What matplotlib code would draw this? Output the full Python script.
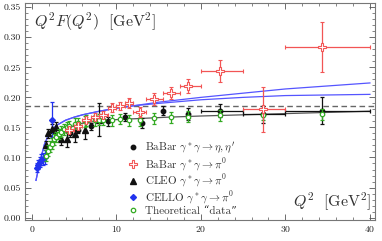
import matplotlib
matplotlib.use("Agg")
import matplotlib.pyplot as plt
from matplotlib.lines import Line2D
from matplotlib.ticker import MultipleLocator
import numpy as np

plt.rcParams['font.family'] = ['cmr10', 'DejaVu Serif']
plt.rcParams['mathtext.fontset'] = 'cm'
plt.rcParams['axes.formatter.use_mathtext'] = True

# BaBar gamma* gamma -> pi0
babar_pi_x = [4.46, 5.47, 6.47, 7.47, 8.48, 9.48, 10.48, 11.49, 12.83, 14.46, 16.45, 18.46, 22.27, 27.31, 34.36]
babar_pi_lo = [4, 5, 6, 7, 8, 9, 10, 11, 12, 13.5, 15.5, 17.5, 20, 25, 30]
babar_pi_hi = [5, 6, 7, 8, 9, 10, 11, 12, 13.5, 15.5, 17.5, 20, 25, 30, 40]
babar_pi_y = [0.145, 0.153, 0.162, 0.168, 0.171, 0.183, 0.186, 0.191, 0.176, 0.197, 0.207, 0.219, 0.244, 0.180, 0.284]
babar_pi_err = [0.005, 0.005, 0.005, 0.006, 0.006, 0.007, 0.007, 0.008, 0.008, 0.010, 0.010, 0.012, 0.018, 0.037, 0.042]

# BaBar gamma* gamma -> eta, eta'
babar_eta_x = [4.5, 5.5, 7.0, 9.0, 11.0, 13.0, 15.5, 18.5, 22.3, 27.4, 34.3]
babar_eta_lo = [4.5, 5.5, 7.0, 9.0, 11.0, 13.0, 15.5, 18.5, 20, 25, 30]
babar_eta_hi = [4.5, 5.5, 7.0, 9.0, 11.0, 13.0, 15.5, 18.5, 25, 30, 40]
babar_eta_y = [0.140, 0.146, 0.152, 0.160, 0.167, 0.157, 0.178, 0.172, 0.178, 0.172, 0.178]
babar_eta_err = [0.006, 0.006, 0.006, 0.007, 0.007, 0.008, 0.008, 0.010, 0.011, 0.014, 0.022]

# CLEO
cleo_x = [1.64, 1.94, 2.34, 2.84, 3.45, 4.21, 5.15, 6.26, 7.93]
cleo_y = [0.121, 0.140, 0.148, 0.150, 0.131, 0.130, 0.139, 0.146, 0.163]
cleo_err = [0.006, 0.007, 0.008, 0.009, 0.010, 0.012, 0.014, 0.016, 0.027]

# CELLO
cello_x = [0.64, 0.78, 0.95, 1.13, 1.33, 1.57, 2.35]
cello_y = [0.083, 0.088, 0.092, 0.096, 0.098, 0.101, 0.163]
cello_err = [0.007, 0.007, 0.008, 0.009, 0.010, 0.012, 0.029]

# theoretical "data"
theo_x = [1.64, 1.94, 2.17, 2.34, 2.64, 2.84, 3.2, 3.45, 3.8, 4.21, 4.46, 5.15, 5.47, 6.26, 6.47,
          7.47, 7.93, 8.48, 9.48, 10.48, 11.49, 12.83, 14.46, 16.45, 18.46, 22.27, 27.31, 34.36]
theo_y = [0.103, 0.111, 0.118, 0.123, 0.130, 0.134, 0.139, 0.143, 0.147, 0.150, 0.152, 0.156, 0.157,
          0.160, 0.161, 0.162, 0.163, 0.163, 0.162, 0.164, 0.162, 0.162, 0.165, 0.167, 0.168, 0.170,
          0.171, 0.172]
theo_err = 0.009

# curves
curve_x = [0.5, 0.7, 1.0, 1.5, 2.0, 2.5, 3, 4, 5, 6, 8, 10, 12, 15, 20, 25, 30, 35, 40]
blue_up = [0.062, 0.075, 0.095, 0.122, 0.138, 0.148, 0.154, 0.162, 0.167, 0.171, 0.177, 0.182,
           0.186, 0.192, 0.200, 0.207, 0.214, 0.219, 0.224]
blue_lo = [0.062, 0.075, 0.095, 0.122, 0.138, 0.148, 0.154, 0.162, 0.167, 0.171, 0.177, 0.182,
           0.186, 0.190, 0.196, 0.200, 0.203, 0.204, 0.205]
gray_x = [1.5, 2, 3, 4, 5, 6, 8, 10, 13, 16, 20, 25, 30, 35, 40]
gray_y = [0.100, 0.117, 0.136, 0.147, 0.153, 0.157, 0.161, 0.163, 0.165, 0.167, 0.169, 0.171,
          0.173, 0.175, 0.177]
asymptote = 0.186

red = '#f25555'
green = '#33aa22'
blue = '#2233ee'
lblue = '#5555ff'

fig = plt.figure(figsize=(3.82, 2.41), dpi=100)
ax = fig.add_axes([25 / 382, 1 - 220 / 241, 350 / 382, 217 / 241])

ax.axhline(asymptote, color='#666666', ls=(0, (4, 2.5)), lw=1.0, zorder=1)
ax.plot(curve_x, blue_up, color=lblue, lw=0.9, zorder=2)
ax.plot(curve_x, blue_lo, color=lblue, lw=0.9, zorder=2)
ax.plot(gray_x, gray_y, color='#555555', lw=0.9, zorder=2)

ekw = dict(capsize=1.5, elinewidth=0.9, capthick=0.9, ls='none')

tx = np.array(theo_x)
ax.errorbar(tx, theo_y, yerr=theo_err, marker='o', ms=3.2, mfc='white', mec=green, mew=0.9,
            color=green, zorder=4, **ekw)

bx = np.array(babar_eta_x)
ax.errorbar(bx, babar_eta_y, yerr=babar_eta_err,
            xerr=[bx - np.array(babar_eta_lo), np.array(babar_eta_hi) - bx],
            marker='o', ms=3.2, color='#111111', zorder=3, **ekw)

ax.errorbar(cleo_x, cleo_y, yerr=cleo_err, marker='^', ms=4.2, color='#111111', zorder=3, **ekw)
ax.errorbar(cello_x, cello_y, yerr=cello_err, marker='D', ms=3.0, color=blue, zorder=3, **ekw)

px = np.array(babar_pi_x)
ax.errorbar(px, babar_pi_y, yerr=babar_pi_err,
            xerr=[px - np.array(babar_pi_lo), np.array(babar_pi_hi) - px],
            marker='P', ms=5.2, mfc='white', mec=red, mew=0.8, color=red, zorder=5, **ekw)

ax.set_xlim(-0.8, 40.6)
ax.set_ylim(-0.004, 0.357)
ax.xaxis.set_major_locator(MultipleLocator(10))
ax.xaxis.set_minor_locator(MultipleLocator(2))
ax.yaxis.set_major_locator(MultipleLocator(0.05))
ax.yaxis.set_minor_locator(MultipleLocator(0.01))
ax.yaxis.set_major_formatter(matplotlib.ticker.FormatStrFormatter('%.2f'))
ax.tick_params(which='both', direction='in', top=True, right=True, colors='#555555',
               labelcolor='#222222', labelsize=7, pad=3)
ax.tick_params(which='major', length=4, width=0.6)
ax.tick_params(which='minor', length=2, width=0.5)
for s in ax.spines.values():
    s.set_color('#777777')
    s.set_linewidth(0.8)

ax.text(0.025, 0.965, r'$Q^2F(Q^2)\ \ [\mathrm{GeV}^2]$', transform=ax.transAxes,
        fontsize=11.5, ha='left', va='top', color='#333333')
ax.text(0.99, 0.03, r'$Q^2\ \ [\mathrm{GeV}^2]$', transform=ax.transAxes,
        fontsize=11.5, ha='right', va='bottom', color='#333333')

handles = [
    Line2D([], [], ls='none', marker='o', ms=3.2, color='#111111'),
    Line2D([], [], ls='none', marker='P', ms=5.2, mfc='white', mec=red, mew=0.8),
    Line2D([], [], ls='none', marker='^', ms=4.2, color='#111111'),
    Line2D([], [], ls='none', marker='D', ms=3.0, color=blue),
    Line2D([], [], ls='none', marker='o', ms=3.2, mfc='white', mec=green, mew=0.9),
]
labels = [
    r'BaBar $\gamma^*\gamma\to\eta,\eta^\prime$',
    r'BaBar $\gamma^*\gamma\to\pi^0$',
    r'CLEO $\gamma^*\gamma\to\pi^0$',
    r'CELLO $\gamma^*\gamma\to\pi^0$',
    'Theoretical \u201cdata\u201d',
]
leg = ax.legend(handles, labels, loc='lower left', bbox_to_anchor=(0.297, 0.018), frameon=False,
                fontsize=8, handlelength=0.8, handletextpad=0.6, labelspacing=0.02,
                borderaxespad=0, borderpad=0)
for t in leg.get_texts():
    t.set_color('#333333')

fig.savefig('out.png', dpi=100)
